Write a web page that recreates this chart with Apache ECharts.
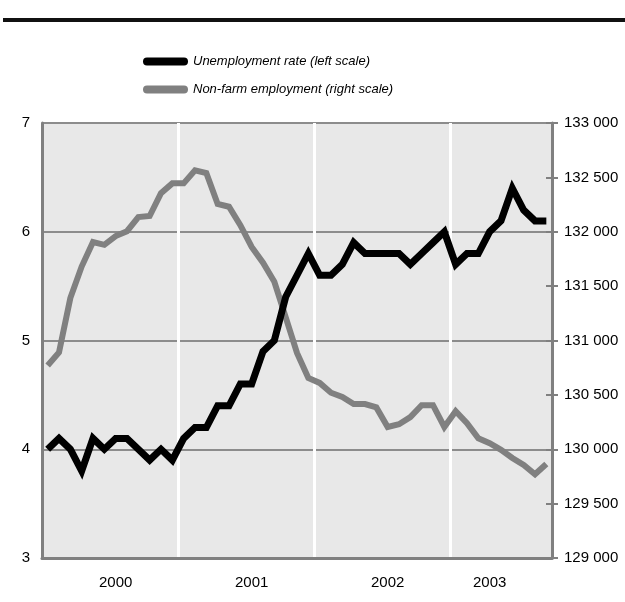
<!DOCTYPE html>
<html>
<head>
<meta charset="utf-8">
<script src="https://cdn.jsdelivr.net/npm/echarts@6/dist/echarts.min.js"></script>
<style>
  html, body { margin: 0; padding: 0; background: #fff; }
  #chart { width: 625px; height: 602px; }
</style>
</head>
<body>
<div id="chart"></div>
<script>
// monthly, Jan 2000 - Sep 2003
var years = ['2000', '2001', '2002', '2003'];
var monthsPerYear = [12, 12, 12, 9];
var yearLabelIdx = [6, 18, 30, 39];   // where the year text sits
var yearStartIdx = [12, 24, 36];      // white separators

var unemployment = [
    4.0, 4.1, 4.0, 3.8, 4.1, 4.0, 4.1, 4.1, 4.0, 3.9, 4.0, 3.9,
    4.1, 4.2, 4.2, 4.4, 4.4, 4.6, 4.6, 4.9, 5.0, 5.4, 5.6, 5.8,
    5.6, 5.6, 5.7, 5.9, 5.8, 5.8, 5.8, 5.8, 5.7, 5.8, 5.9, 6.0,
    5.7, 5.8, 5.8, 6.0, 6.1, 6.4, 6.2, 6.1, 6.1
];
var nonFarm = [
    130770, 130890, 131390, 131680, 131905, 131880, 131960, 132005, 132135, 132145, 132355, 132445,
    132445, 132565, 132540, 132255, 132230, 132060, 131860, 131715, 131540, 131215, 130885, 130655,
    130610, 130520, 130480, 130415, 130415, 130385, 130205, 130230, 130295, 130405, 130405, 130205,
    130350, 130240, 130100, 130055, 129995, 129920, 129855, 129770, 129865
];

var leftTicks = { min: 3, max: 7, interval: 1 };
var rightTicks = { min: 129000, max: 133000, interval: 500 };

var categories = [];
years.forEach(function (y, k) {
    for (var m = 1; m <= monthsPerYear[k]; m++) {
        categories.push(y + '-' + (m < 10 ? '0' + m : m));
    }
});

var fontFam = '"Liberation Sans", Arial, sans-serif';

function spaced(v) {
    return String(v).replace(/\B(?=(\d{3})+(?!\d))/g, ' ');
}

var chart = echarts.init(document.getElementById('chart'));
chart.setOption({
    animation: false,
    textStyle: { fontFamily: fontFam },
    graphic: [
        { type: 'rect', shape: { x: 3, y: 18, width: 622, height: 4 }, style: { fill: '#111' } }
    ],
    legend: {
        orient: 'vertical',
        left: 138,
        top: 50,
        itemWidth: 45,
        itemHeight: 8,
        itemGap: 15,
        icon: 'path://M4,0 H41 A4,4 0 0 1 41,8 H4 A4,4 0 0 1 4,0 Z',
        textStyle: { fontFamily: fontFam, fontSize: 13, fontStyle: 'italic', color: '#000', padding: [7, 0, 0, 0] },
        data: ['Unemployment rate (left scale)', 'Non-farm employment (right scale)']
    },
    grid: { left: 42, right: 73, top: 123, bottom: 44, show: true, backgroundColor: '#e8e8e8', borderWidth: 0 },
    xAxis: {
        type: 'category',
        data: categories,
        boundaryGap: true,
        axisLine: { lineStyle: { color: '#808080', width: 3 } },
        axisTick: { show: false },
        axisLabel: {
            interval: function (i) { return yearLabelIdx.indexOf(i) >= 0; },
            formatter: function (v) { return v.slice(0, 4); },
            margin: 17,
            fontSize: 15,
            color: '#000'
        },
        splitLine: {
            show: true,
            interval: function (i) { return yearStartIdx.indexOf(i) >= 0; },
            lineStyle: { color: '#ffffff', width: 3 }
        }
    },
    yAxis: [
        {
            type: 'value',
            position: 'left',
            min: leftTicks.min, max: leftTicks.max, interval: leftTicks.interval,
            axisLine: { show: true, lineStyle: { color: '#808080', width: 3 } },
            axisTick: { show: false },
            axisLabel: { fontSize: 15, color: '#000', margin: 12 },
            splitLine: { lineStyle: { color: '#8c8c8c', width: 2 } }
        },
        {
            type: 'value',
            position: 'right',
            min: rightTicks.min, max: rightTicks.max, interval: rightTicks.interval,
            axisLine: { show: true, lineStyle: { color: '#808080', width: 3 } },
            axisTick: { show: true, length: 6, lineStyle: { color: '#808080', width: 2 } },
            axisLabel: { fontSize: 15, color: '#000', margin: 12, formatter: spaced },
            splitLine: { show: false }
        },
        {
            // inner half of the right-hand ticks
            type: 'value',
            position: 'right',
            min: rightTicks.min, max: rightTicks.max, interval: rightTicks.interval,
            axisLine: { show: false },
            axisTick: { show: true, inside: true, length: 6, lineStyle: { color: '#808080', width: 2 } },
            axisLabel: { show: false },
            splitLine: { show: false }
        }
    ],
    series: [
        {
            name: 'Unemployment rate (left scale)',
            type: 'line',
            yAxisIndex: 0,
            data: unemployment,
            symbol: 'none',
            color: '#000',
            lineStyle: { color: '#000', width: 7, join: 'miter' },
            z: 3
        },
        {
            name: 'Non-farm employment (right scale)',
            type: 'line',
            yAxisIndex: 1,
            data: nonFarm,
            symbol: 'none',
            color: '#808080',
            lineStyle: { color: '#808080', width: 6, join: 'miter' },
            z: 2
        }
    ]
});
</script>
</body>
</html>
